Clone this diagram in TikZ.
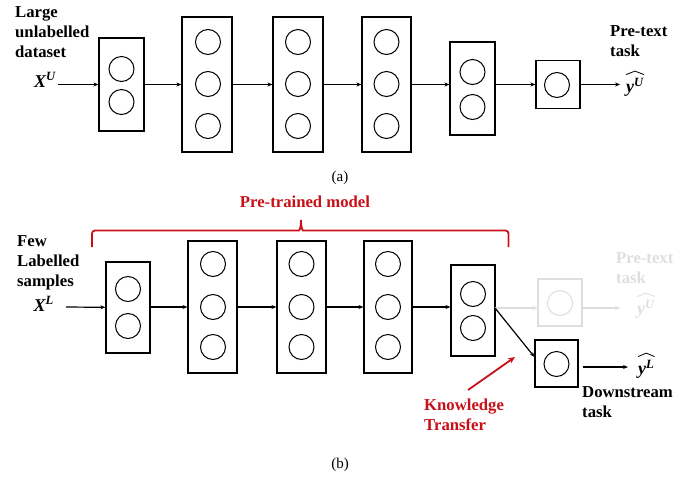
\documentclass[tikz,border=0pt]{standalone}
\usepackage{fontspec}
\setmainfont{Liberation Serif}
\usepackage{amsmath}
\usetikzlibrary{arrows.meta}
\definecolor{darkred}{RGB}{200,16,24}
\definecolor{fade}{RGB}{222,222,222}
\newcommand{\bi}[1]{\text{\bfseries\itshape #1}}
\tikzset{
  layer/.style={draw, line width=1.1pt, inner sep=0pt, minimum width=#1},
  neuron/.style={draw, circle, line width=1pt, minimum size=25pt, inner sep=0pt},
  conn/.style={line width=1.2pt, -{Stealth[length=5pt,width=4pt]}},
  lbl/.style={font=\fontsize{16.7}{20}\selectfont\bfseries, align=left, inner sep=0pt},
  mlbl/.style={font=\fontsize{18}{20}\selectfont, inner sep=0pt},
  hatline/.style={line width=0.8pt, line join=miter},
  subcap/.style={font=\fontsize{15}{18}\selectfont, inner sep=0pt},
}
\begin{document}
\begin{tikzpicture}[x=1pt,y=-1pt]
\useasboundingbox (0,0) rectangle (694,480);
% ---------- (a) ----------
\node[layer=45pt, minimum height=93pt] (a1) at (121.5,84.5) {};
\node[neuron] (a1n1) at (121.5,69) {};
\node[neuron] (a1n2) at (121.5,102) {};
\node[layer=50pt, minimum height=135pt] (a2) at (207,84.5) {};
\node[layer=50pt, minimum height=135pt] (a3) at (298,84.5) {};
\node[layer=49pt, minimum height=135pt] (a4) at (386.5,84.5) {};
\foreach \n/\x in {a2/208,a3/298,a4/386.5}{
  \node[neuron] (\n n1) at (\x,42) {};
  \node[neuron] (\n n2) at (\x,84) {};
  \node[neuron] (\n n3) at (\x,126) {};
}
\node[layer=45pt, minimum height=93pt] (a5) at (472.5,88.5) {};
\node[neuron] (a5n1) at (472.5,72) {};
\node[neuron] (a5n2) at (472.5,107) {};
\node[layer=44pt, minimum height=48pt] (a6) at (558,84.5) {};
\node[neuron] (a6n1) at (557,85) {};
\coordinate (ina) at (58,84.5);
\coordinate (outa) at (620,84.5);
\draw[conn] (ina) -- (a1);
\draw[conn] (a1) -- (a2);
\draw[conn] (a2) -- (a3);
\draw[conn] (a3) -- (a4);
\draw[conn] (a4.east) -- (a4.east -| a5.west);
\draw[conn] (a5.east |- a6.west) -- (a6.west);
\draw[conn] (a6) -- (outa);
\node[lbl, anchor=north west] (ta) at (15,6.5) {Large\\unlabelled\\dataset};
\node[mlbl, anchor=east] (xu) at (56,80) {$\bi{X}^{\bi{U}}$};
\node[lbl, anchor=north west] (pta) at (610,25) {Pre-text\\task};
\node[mlbl, anchor=west] (yua) at (626,87) {$\bi{y}^{\bi{U}}$};
\draw[hatline] ([yshift=3pt]yua.north west) -- ([yshift=6.5pt]yua.north) -- ([yshift=3pt]yua.north east);
\node[subcap] (capa) at (340,178) {(a)};
% ---------- (b) ----------
\node[layer=44pt, minimum height=91pt] (b1) at (128,307.5) {};
\node[neuron] (b1n1) at (128,289) {};
\node[neuron] (b1n2) at (128,326) {};
\node[layer=49pt, minimum height=132pt] (b2) at (212.5,307) {};
\node[layer=49pt, minimum height=132pt] (b3) at (301.5,307) {};
\node[layer=48pt, minimum height=132pt] (b4) at (388,307) {};
\foreach \n/\x in {b2/213,b3/301.5,b4/388}{
  \node[neuron] (\n n1) at (\x,264) {};
  \node[neuron] (\n n2) at (\x,307) {};
  \node[neuron] (\n n3) at (\x,347) {};
}
\node[layer=44pt, minimum height=91pt] (b5) at (473,310.5) {};
\node[neuron] (b5n1) at (473,294) {};
\node[neuron] (b5n2) at (473,328) {};
% faded pretext head
\node[layer=44pt, minimum height=47pt, draw=fade] (bf) at (560,302.5) {};
\node[neuron, draw=fade] (bfn1) at (560,303) {};
\coordinate (b5o) at (495,308);
\coordinate (outf) at (620,308);
\draw[conn, draw=fade] (b5o) -- (b5o -| bf.west);
\draw[conn, draw=fade] (bf.east |- outf) -- (outf);
\node[lbl, anchor=north west, text=fade] (ptb) at (616,252) {Pre-text\\task};
\node[mlbl, anchor=west, text=fade] (yub) at (637,309) {$\bi{y}^{\bi{U}}$};
\draw[hatline, draw=fade] ([yshift=3pt]yub.north west) -- ([yshift=6.5pt]yub.north) -- ([yshift=3pt]yub.north east);
% downstream head
\node[layer=43pt, minimum height=47pt] (bd) at (556.5,363.5) {};
\node[neuron] (bdn1) at (556.5,364) {};
\coordinate (outd) at (628,367);
\coordinate (inb) at (66,307);
\draw[conn] (inb) -- (b1);
\draw[conn] (b1.east |- b2.west) -- (b2);
\draw[conn] (b2) -- (b3);
\draw[conn] (b3) -- (b4);
\draw[conn] (b4.east) -- (b4.east -| b5.west);
\draw[conn] (b5o) -- (bd.north west |- 0,357);
\draw[conn, shorten <=4pt] (bd.east |- outd) -- (outd);
\node[mlbl, anchor=west] (ylb) at (638,369) {$\bi{y}^{\bi{L}}$};
\draw[hatline] ([yshift=3pt]ylb.north west) -- ([yshift=6.5pt]ylb.north) -- ([yshift=3pt]ylb.north east);
\node[lbl, anchor=north west] (dst) at (582,386.5) {Downstream\\task};
\node[lbl, anchor=north west] (fls) at (17,235) {Few\\Labelled\\samples};
\node[mlbl, anchor=east] (xl) at (54,304) {$\bi{X}^{\bi{L}}$};
% pre-trained bracket
\node[lbl, text=darkred] (ptm) at (305,202) {Pre-trained model};
\draw[darkred, line width=1.8pt, rounded corners=3pt]
  (92,247) |- (296,230.5) .. controls (299.5,230.5) and (301,227) .. (301,218)
  .. controls (301,227) and (302.5,230.5) .. (306,230.5) -| (508.5,247);
% knowledge transfer
\node[lbl, anchor=north west, text=darkred] (kt) at (424,399) {Knowledge\\Transfer};
\coordinate (kts) at (468,390);
\coordinate (kte) at (515,357);
\draw[darkred, line width=1.8pt, -{Stealth[length=7pt,width=6pt]}] (kts) -- (kte);
\node[subcap] (capb) at (340,465) {(b)};
\end{tikzpicture}
\end{document}
